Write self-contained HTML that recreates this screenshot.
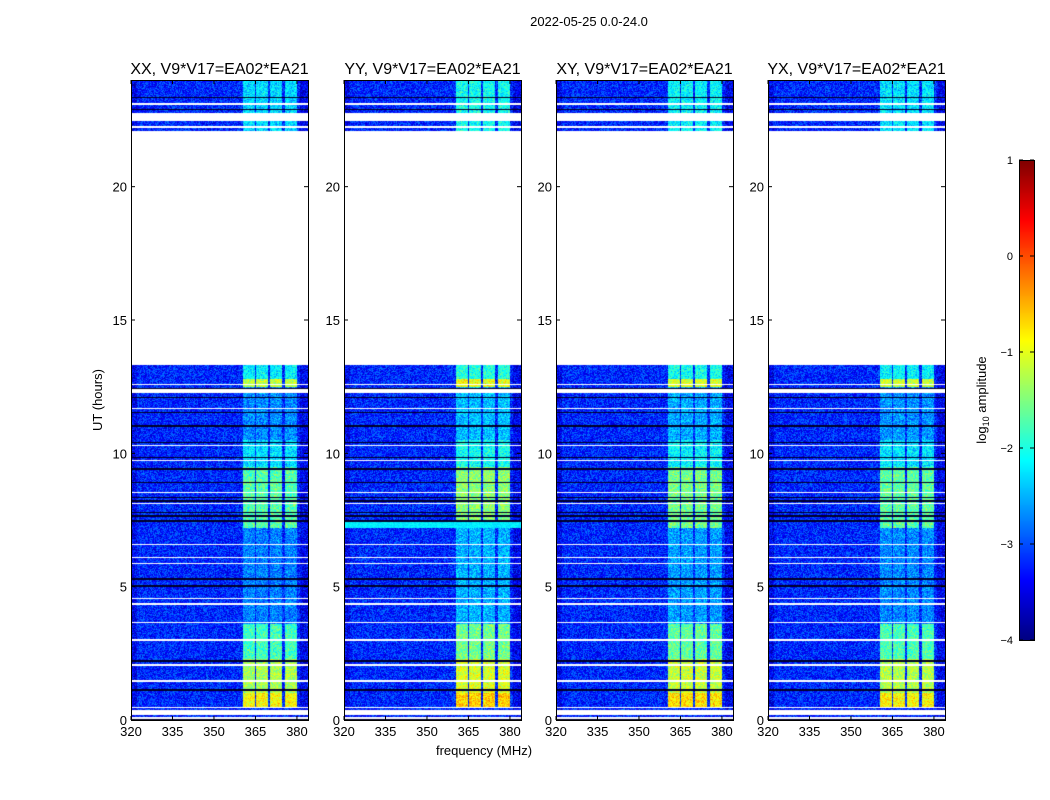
<!DOCTYPE html>
<html><head><meta charset="utf-8"><style>
body{margin:0;background:#fff;width:1050px;height:800px;overflow:hidden;position:relative;font-family:"Liberation Sans",sans-serif}
canvas{position:absolute}
svg{position:absolute;left:0;top:0}
</style></head><body>
<div id="root"></div>
<svg id="ov" width="1050" height="800"></svg>
<script>
// ---- data ----
const panelTitles = ["XX, V9*V17=EA02*EA21","YY, V9*V17=EA02*EA21","XY, V9*V17=EA02*EA21","YX, V9*V17=EA02*EA21"];
const panelLefts = [131,344,556,768];
const xTicks = [320,335,350,365,380];
const yTicks = [0,5,10,15,20];
const cbTicks = [1,0,-1,-2,-3,-4];
const bandStarts = [360.5,365.3,370.4,375.6];
const bandWidth = 4.3;
const segStart = [0.45,1.0,2.3,3.6,7.2,9.5,10.5,12.5,12.8,22.1];
const segEnd   = [1.0,2.3,3.6,7.2,9.5,10.5,12.5,12.8,13.3,24.0];
const segLevel = [-0.9,-1.3,-1.8,-2.75,-1.7,-2.3,-2.7,-1.2,-2.2,-2.3];
const panelBoost = [0,0.25,0.15,0.05];
const background = -3.2;
const flagStart = [0.05,0.2,0.45,1.44,2.04,2.98,3.62,4.33,4.52,5.84,6.06,6.55,8.09,8.51,9.70,10.26,11.65,12.25,12.55,13.3,22.2,22.45,23.05];
const flagEnd   = [0.1,0.36,0.5,1.5,2.1,3.03,3.67,4.38,4.57,5.9,6.11,6.6,8.14,8.56,9.75,10.31,11.7,12.4,12.6,22.1,22.28,22.75,23.12];
const darkLines = [0.0,1.13,2.21,5.03,5.29,7.47,7.65,7.78,8.22,8.34,8.9,9.41,9.84,10.4,11.03,11.53,12.1,12.42,22.9,23.35];
// ---- axes ----
const PW=177, PH=640, TOP=80, FMIN=320, FMAX=384, TMAX=24;
const xs = f => (f-FMIN)/(FMAX-FMIN)*PW;
const ys = t => PH - t/TMAX*PH;
function jet(v){
  let x=(v+4)/5; x=Math.max(0,Math.min(1,x));
  const c=t=>Math.max(0,Math.min(1,t));
  return [c(1.5-Math.abs(4*x-3)),c(1.5-Math.abs(4*x-2)),c(1.5-Math.abs(4*x-1))].map(q=>Math.round(q*255));
}
function hash(a,b,c){let h=(a*374761393+b*668265263+c*2246822519)|0;h=(h^(h>>>13))*1274126177|0;h^=h>>>16;return (h>>>0)/4294967296;}
const root=document.getElementById('root');
panelLefts.forEach((L,p)=>{
  const cv=document.createElement('canvas');
  
  
  cv.width=PW;cv.height=PH;cv.style.left=L+'px';cv.style.top=TOP+'px';
  root.appendChild(cv);
  const ctx=cv.getContext('2d');const img=ctx.createImageData(PW,PH);
  for(let py=0;py<PH;py++){
    const t=(PH-py-0.5)/PH*TMAX;
    let flagged=false;
    for(let i=0;i<flagStart.length;i++) if(t>=flagStart[i]&&t<flagEnd[i]) flagged=true;
    let dark=false;
    for(const d of darkLines) if(Math.abs(ys(d)-py-0.5)<0.8) dark=true;
    let lvl=null;
    for(let i=0;i<segStart.length;i++) if(t>=segStart[i]&&t<segEnd[i]) lvl=segLevel[i]+panelBoost[p];
    for(let px=0;px<PW;px++){
      const o=(py*PW+px)*4;let col;
      if(flagged) col=[255,255,255];
      else if(dark) col=[0,0,40];
      else{
        const f=FMIN+(px+0.5)/PW*(FMAX-FMIN);
        const n=hash(px,py,p)-0.5, n2=hash(py,px,p+7)-0.5;
        let v=background+n*0.9;
        if(f<322||f>381) v-=0.25;
        if(lvl!==null) for(const b of bandStarts) if(f>=b&&f<b+bandWidth) v=lvl+n*0.7+n2*0.4;
        if(p===1&&t>7.2&&t<7.45) v=-2.2+n*0.3;
        col=jet(v);
      }
      img.data[o]=col[0];img.data[o+1]=col[1];img.data[o+2]=col[2];img.data[o+3]=255;
    }
  }
  ctx.putImageData(img,0,0);
});
const cb=document.createElement('canvas');


cb.width=15;cb.height=480;cb.style.left='1019px';cb.style.top='160px';root.appendChild(cb);
const cctx=cb.getContext('2d');
for(let y=0;y<480;y++){const c=jet(1-y/480*5);cctx.fillStyle=`rgb(${c})`;cctx.fillRect(0,y,15,1);}
const NS='http://www.w3.org/2000/svg',ov=document.getElementById('ov');
function el(tag,attrs,txt){const e=document.createElementNS(NS,tag);for(const k in attrs)e.setAttribute(k,attrs[k]);if(txt!==undefined)e.textContent=txt;ov.appendChild(e);return e;}
let e=el('text',{x:589,y:26,'font-size':13,'text-anchor':'middle'},'2022-05-25 0.0-24.0');


panelLefts.forEach((L,p)=>{
  let r=el('rect',{x:L+0.5,y:TOP+0.5,width:PW,height:PH,fill:'none',stroke:'#000'});
  
  
  let t=el('text',{x:L+PW/2,y:74,'font-size':16,'text-anchor':'middle'},panelTitles[p]);
  
  
  xTicks.forEach(v=>{const x=L+xs(v);
    el('line',{x1:x,x2:x,y1:TOP+PH,y2:TOP+PH-4,stroke:'#000'});
    el('line',{x1:x,x2:x,y1:TOP,y2:TOP+4,stroke:'#000'});
    let k=el('text',{x:x,y:TOP+PH+16,'font-size':13,'text-anchor':'middle'},v);
    
    
  });
  yTicks.forEach(v=>{const y=TOP+ys(v);
    el('line',{x1:L,x2:L+4,y1:y,y2:y,stroke:'#000'});
    el('line',{x1:L+PW,x2:L+PW-4,y1:y,y2:y,stroke:'#000'});
    let k=el('text',{x:L-4,y:y+5,'font-size':13,'text-anchor':'end'},v);
    
    
  });
});
e=el('text',{x:484,y:755,'font-size':13,'text-anchor':'middle'},'frequency (MHz)');


e=el('text',{x:102,y:400,'font-size':13,'text-anchor':'middle',transform:'rotate(-90 102 400)'},'UT (hours)');


el('rect',{x:1019.5,y:160.5,width:15,height:480,fill:'none',stroke:'#000'});
cbTicks.forEach(v=>{const y=160+(1-v)/5*480;
  el('line',{x1:1019,x2:1023,y1:y,y2:y,stroke:'#000'});
  el('line',{x1:1034,x2:1030,y1:y,y2:y,stroke:'#000'});
  let k=el('text',{x:1013,y:y+4,'font-size':11,'text-anchor':'end'},v<0?'\u2212'+(-v):v);
  
  
});
e=el('text',{x:986,y:400,'font-size':13,'text-anchor':'middle',transform:'rotate(-90 986 400)'});
e.innerHTML='log<tspan font-size="9" dy="3">10</tspan><tspan dy="-3"> amplitude</tspan>';


</script></body></html>
